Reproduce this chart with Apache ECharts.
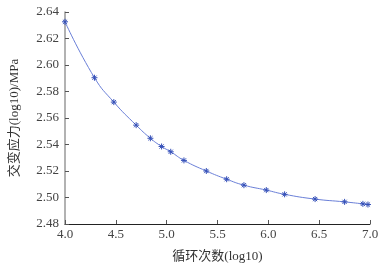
<!DOCTYPE html>
<html>
<head>
<meta charset="utf-8">
<script src="https://cdn.jsdelivr.net/npm/echarts@6/dist/echarts.min.js"></script>
<style>
html, body { margin: 0; padding: 0; background: #fff; }
#main { width: 387px; height: 268px; }
</style>
</head>
<body>
<div id="main"></div>
<script>
// log10 cycles vs log10 stress amplitude
let cycles = [4.0, 4.29, 4.48, 4.70, 4.84, 4.95, 5.04, 5.17, 5.39, 5.59, 5.76, 5.98, 6.16, 6.46, 6.75, 6.93, 6.98];
let stress = [2.6326, 2.5904, 2.572, 2.5546, 2.5447, 2.5385, 2.5345, 2.528, 2.520, 2.5138, 2.5093, 2.5056, 2.5024, 2.4988, 2.4967, 2.4952, 2.4947];
let xTicks = [4.0, 4.5, 5.0, 5.5, 6.0, 6.5, 7.0];
let yTicks = [2.48, 2.50, 2.52, 2.54, 2.56, 2.58, 2.60, 2.62, 2.64];

let pts = cycles.map(function (c, i) { return [c, stress[i]]; });

let serif = "'Liberation Serif', 'Noto Sans CJK SC', serif";
let myChart = echarts.init(document.getElementById("main"));
let option = {
    backgroundColor: "#fff",
    animation: false,
    grid: { left: 59, right: 17, top: 12, bottom: 40 },
    xAxis: {
        type: 'value',
        min: 4.0,
        max: 7.0,
        interval: 0.5,
        name: '循环次数(log10)',
        nameLocation: 'middle',
        nameGap: 26,
        nameTextStyle: { color: '#333', fontSize: 13, fontFamily: serif },
        axisLine: { lineStyle: { color: '#222', width: 1 } },
        axisTick: { inside: true, length: 4, lineStyle: { color: '#555' } },
        splitLine: { show: false },
        axisLabel: {
            color: '#444',
            fontSize: 13,
            fontFamily: serif,
            margin: 4,
            formatter: function (v) { return v.toFixed(1); }
        }
    },
    yAxis: {
        type: 'value',
        min: 2.48,
        max: 2.64,
        interval: 0.02,
        name: '交变应力(log10)/MPa',
        nameLocation: 'middle',
        nameGap: 44,
        nameTextStyle: { color: '#333', fontSize: 13, fontFamily: serif },
        axisLine: { show: true, lineStyle: { color: '#999', width: 1.5 } },
        axisTick: { inside: true, length: 4, lineStyle: { color: '#555' } },
        splitLine: { show: false },
        axisLabel: {
            color: '#444',
            fontSize: 13,
            fontFamily: serif,
            margin: 6,
            formatter: function (v) { return v.toFixed(2); }
        }
    },
    series: [{
        type: 'line',
        data: pts,
        smooth: true,
        lineStyle: { color: '#6a7fd8', width: 1 },
        symbol: 'path://M5,0 L5,10 M0,5 L10,5 M1.5,1.5 L8.5,8.5 M8.5,1.5 L1.5,8.5',
        symbolSize: 6,
        itemStyle: { color: '#3550b8', borderColor: '#3550b8', borderWidth: 1 }
    }]
};
myChart.setOption(option);
</script>
</body>
</html>
